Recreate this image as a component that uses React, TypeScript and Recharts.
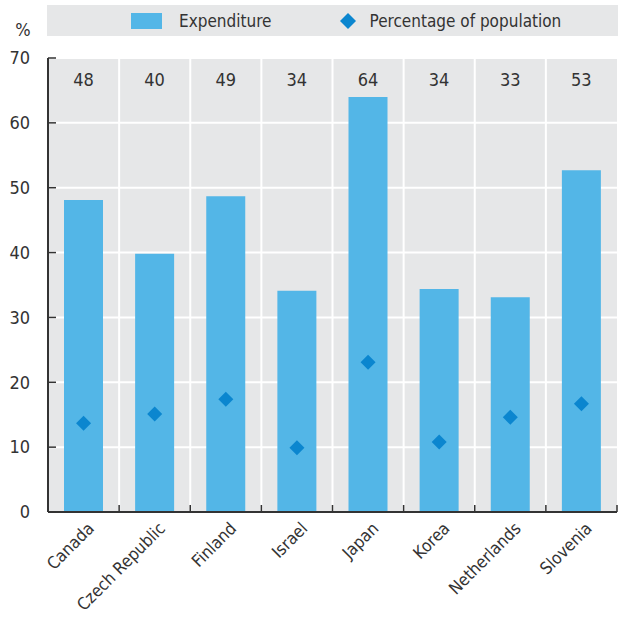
import React from "react";
import {
  ComposedChart,
  Bar,
  Scatter,
  XAxis,
  YAxis,
  CartesianGrid,
  Legend,
  LabelList,
  Label,
} from "recharts";

const countries = [
  "Canada",
  "Czech Republic",
  "Finland",
  "Israel",
  "Japan",
  "Korea",
  "Netherlands",
  "Slovenia",
];
const expenditure = [48.1, 39.8, 48.7, 34.1, 64.0, 34.4, 33.1, 52.7];
const population = [13.7, 15.1, 17.4, 9.9, 23.1, 10.8, 14.6, 16.7];
const yTicks = [0, 10, 20, 30, 40, 50, 60, 70];

const FONT = "'Liberation Sans Narrow', 'DejaVu Sans Condensed', sans-serif";
const TEXT = "#333333";
const BAR = "#53b6e7";
const DIAMOND = "#0b86cf";
const BG = "#e6e7e8";

const data = countries.map((c, i) => ({
  country: c,
  expenditure: expenditure[i],
  population: population[i],
}));

const YTick = (props: any) => {
  const { x, y, payload } = props;
  return (
    <g>
      <line x1={x + 18} x2={x + 26} y1={y} y2={y} stroke={TEXT} strokeWidth={1.5} />
      <text x={x} y={y} dy="0.35em" textAnchor="end" fill={TEXT} fontSize={18} fontFamily={FONT}>
        {payload.value}
      </text>
    </g>
  );
};

const XTick = (props: any) => {
  const { x, y, payload } = props;
  const half = payload.offset ?? 35.5;
  return (
    <g>
      <line x1={x + half} x2={x + half} y1={y} y2={y - 7} stroke={TEXT} strokeWidth={1.5} />
      <g transform={`translate(${x + 3},${y + 9})`}>
        <text x={0} y={0} dy="0.71em" textAnchor="end" transform="rotate(-45)" fill={TEXT} fontSize={17} fontFamily={FONT}>
          {payload.value}
        </text>
      </g>
    </g>
  );
};

const Diamond = (props: any) => {
  const { cx, cy } = props;
  const r = 7.5;
  return <path d={`M${cx},${cy - r}L${cx + r},${cy}L${cx},${cy + r}L${cx - r},${cy}Z`} fill={DIAMOND} />;
};

const TopLabel = (props: any) => {
  const { x, width, value } = props;
  return (
    <text x={x + width / 2} y={80} dy="0.35em" textAnchor="middle" fill={TEXT} fontSize={18} fontFamily={FONT}>
      {Math.round(value)}
    </text>
  );
};

const LegendBox = () => (
  <div style={{ height: 53, fontFamily: FONT, color: TEXT, fontSize: 17 }}>
    <div
      style={{
        height: 31,
        background: BG,
        display: "flex",
        alignItems: "center",
        paddingLeft: 84,
        boxSizing: "border-box",
      }}
    >
      <span style={{ display: "inline-block", width: 31, height: 16, background: BAR }} />
      <span style={{ marginLeft: 17 }}>Expenditure</span>
      <svg width={16} height={16} style={{ marginLeft: 68 }}>
        <path d="M8,0L16,8L8,16L0,8Z" fill={DIAMOND} />
      </svg>
      <span style={{ marginLeft: 14 }}>Percentage of population</span>
    </div>
  </div>
);

export default function App() {
  return (
    <div style={{ position: "absolute", left: 0, top: 0, background: "#fff" }}>
      <ComposedChart
        width={622}
        height={620}
        data={data}
        margin={{ top: 5, right: 5, left: 0, bottom: 8 }}
        barCategoryGap="22.5%"
      >
        <CartesianGrid
          fill={BG}
          stroke="#ffffff"
          strokeWidth={2}
          verticalCoordinatesGenerator={({ offset }: any) =>
            countries.slice(1).map((_, i) => offset.left + ((i + 1) * offset.width) / countries.length)
          }
        />
        <XAxis
          dataKey="country"
          height={100}
          interval={0}
          tickSize={0}
          tickMargin={0}
          tickLine={false}
          axisLine={{ stroke: TEXT, strokeWidth: 2 }}
          tick={<XTick />}
        />
        <YAxis
          width={48}
          domain={[0, 70]}
          ticks={yTicks}
          interval={0}
          tickSize={0}
          tickMargin={18}
          tickLine={false}
          axisLine={{ stroke: TEXT, strokeWidth: 2 }}
          tick={<YTick />}
        >
          <Label
            content={({ viewBox }: any) => (
              <text x={viewBox.x + 23} y={viewBox.y - 28} dy="0.35em" textAnchor="middle" fill={TEXT} fontSize={18} fontFamily={FONT}>
                %
              </text>
            )}
          />
        </YAxis>
        <Legend verticalAlign="top" content={<LegendBox />} wrapperStyle={{ left: 47, width: 571, top: 5 }} />
        <Bar dataKey="expenditure" name="Expenditure" fill={BAR} isAnimationActive={false}>
          <LabelList dataKey="expenditure" content={<TopLabel />} />
        </Bar>
        <Scatter dataKey="population" name="Percentage of population" fill={DIAMOND} shape={<Diamond />} isAnimationActive={false} />
      </ComposedChart>
    </div>
  );
}
